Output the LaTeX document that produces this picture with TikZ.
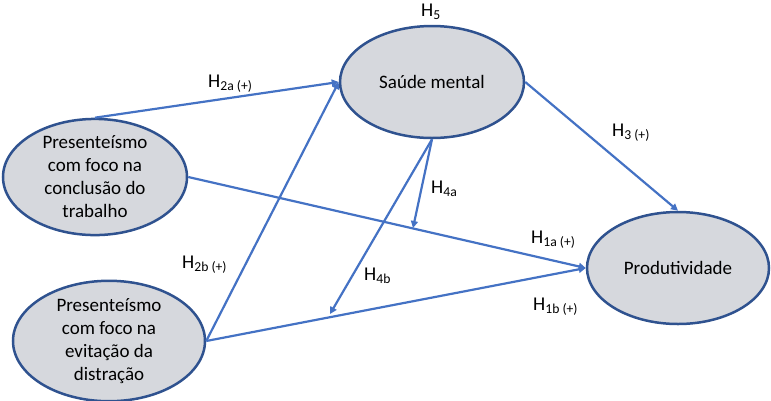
\documentclass[tikz,border=0pt]{standalone}
\usepackage{fontspec}
\setmainfont{Carlito}
\usetikzlibrary{shapes.geometric,arrows.meta}
\definecolor{arrowblue}{HTML}{4472C4}
\definecolor{rimblue}{HTML}{2F528F}
\definecolor{fillgray}{HTML}{D6D8DD}
\tikzset{
  latent/.style={ellipse,draw=rimblue,fill=fillgray,line width=2.5pt,inner sep=0pt,
    minimum width=184pt,minimum height=112pt,align=center,font=\fontsize{19}{23}\selectfont},
  hyp/.style={draw=arrowblue,line width=2.2pt,-{Triangle[length=7pt,width=7pt]}},
  lbl/.style={anchor=base west,inner sep=0pt,font=\fontsize{19.5}{23}\selectfont}
}
\begin{document}
\begin{tikzpicture}[x=1pt,y=-1pt]
\useasboundingbox (0,0) rectangle (771,400);

% constructs
\node[latent] (sm) at (432,82) {Saúde mental};
\node[latent] (pc) at (95,177) {Presenteísmo\\com foco na\\conclusão do\\trabalho};
\node[latent,minimum width=192pt] (pd) at (109,341) {Presenteísmo\\com foco na\\evitação da\\distração};
\node[latent,minimum width=182pt] (prod) at (678,268) {Produtividade};

% moderation targets
\coordinate (m4a) at (413,228);
\coordinate (m4b) at (330,314);

% paths
\draw[hyp] (pc.north) -- (sm.west);
\draw[hyp] (pd.east) -- (sm.west);
\draw[hyp] (pc.east) -- (prod.west);
\draw[hyp] (pd.east) -- (prod.west);
\draw[hyp] (sm.east) -- (prod.north);
\draw[hyp] (sm.south) -- (m4a);
\draw[hyp] (sm.south) -- (m4b);

% labels
\node[lbl] (h5) at (421,16) {H\textsubscript{5}};
\node[lbl] (h2a) at (208,87) {H\textsubscript{2a (+)}};
\node[lbl] (h2b) at (182,268) {H\textsubscript{2b (+)}};
\node[lbl] (h3) at (612,136) {H\textsubscript{3 (+)}};
\node[lbl] (h4a) at (431,193) {H\textsubscript{4a}};
\node[lbl] (h4b) at (364,280) {H\textsubscript{4b}};
\node[lbl] (h1a) at (531,243) {H\textsubscript{1a (+)}};
\node[lbl] (h1b) at (533,310) {H\textsubscript{1b (+)}};
\end{tikzpicture}
\end{document}
